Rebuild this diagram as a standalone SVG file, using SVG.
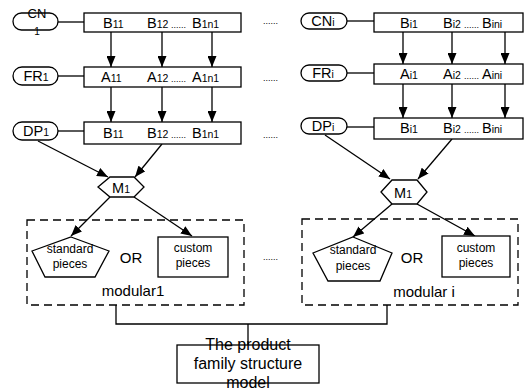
<svg xmlns="http://www.w3.org/2000/svg" width="524" height="392" viewBox="0 0 524 392">
  <defs>
    <marker id="ah" markerWidth="11" markerHeight="9" refX="11" refY="4.5" orient="auto" markerUnits="userSpaceOnUse">
      <path d="M0,0 L11,4.5 L0,9 z" fill="#000"/>
    </marker>
    <style>
      .shape { fill: #fff; stroke: #000; stroke-width: 1.3; }
      .line { fill: none; stroke: #000; stroke-width: 1.3; }
      .arrow { fill: none; stroke: #000; stroke-width: 1.3; marker-end: url(#ah); }
      .dash { fill: none; stroke: #000; stroke-width: 1.3; stroke-dasharray: 8 5; }
      text { font-family: "Liberation Sans", Arial, sans-serif; fill: #000; }
      .lbl { font-size: 14.5px; }
      .sub { font-size: 10.5px; }
      .dots { font-size: 9px; }
      .mid { text-anchor: middle; }
      .small { font-size: 12px; }
      .big { font-size: 15px; }
      .title { font-size: 16px; }
    </style>
  </defs>
  <rect width="524" height="392" fill="#fff"/>

  <!-- connectors -->
  <g id="connectors">
    <!-- labels to rows, left chain -->
    <line class="line" x1="58" y1="22" x2="84" y2="22"/>
    <line class="line" x1="58" y1="76" x2="84" y2="76"/>
    <line class="line" x1="58" y1="131" x2="84" y2="131"/>
    <!-- labels to rows, right chain -->
    <line class="line" x1="347" y1="21" x2="374" y2="21"/>
    <line class="line" x1="347" y1="73" x2="374" y2="73"/>
    <line class="line" x1="347" y1="127" x2="374" y2="127"/>
    <!-- left vertical arrows -->
    <line class="arrow" x1="111" y1="32" x2="111" y2="67"/>
    <line class="arrow" x1="162" y1="32" x2="162" y2="67"/>
    <line class="arrow" x1="212" y1="32" x2="212" y2="67"/>
    <line class="arrow" x1="111" y1="87" x2="111" y2="122"/>
    <line class="arrow" x1="162" y1="87" x2="162" y2="122"/>
    <line class="arrow" x1="212" y1="87" x2="212" y2="122"/>
    <!-- right vertical arrows -->
    <line class="arrow" x1="403" y1="32" x2="403" y2="64"/>
    <line class="arrow" x1="452" y1="32" x2="452" y2="64"/>
    <line class="arrow" x1="505" y1="32" x2="505" y2="64"/>
    <line class="arrow" x1="403" y1="84" x2="403" y2="118"/>
    <line class="arrow" x1="452" y1="84" x2="452" y2="118"/>
    <line class="arrow" x1="505" y1="84" x2="505" y2="118"/>
    <!-- into M1, left -->
    <line class="arrow" x1="38" y1="141" x2="108" y2="177"/>
    <line class="arrow" x1="162" y1="144" x2="135" y2="177"/>
    <!-- into M1, right -->
    <line class="arrow" x1="325" y1="135" x2="390" y2="179"/>
    <line class="arrow" x1="452" y1="139" x2="418" y2="179"/>
    <!-- M1 to pieces, left -->
    <line class="arrow" x1="110" y1="197" x2="71" y2="236"/>
    <line class="arrow" x1="134" y1="197" x2="192" y2="236"/>
    <!-- M1 to pieces, right -->
    <line class="arrow" x1="392" y1="204" x2="353" y2="237"/>
    <line class="arrow" x1="417" y1="204" x2="475" y2="236"/>
    <!-- modules to product model -->
    <polyline class="line" points="116,305 116,324 387,324 387,305"/>
    <line class="line" x1="248" y1="324" x2="248" y2="345"/>
  </g>

  <!-- left chain -->
  <g id="cn1">
    <rect class="shape" x="13" y="13" width="45" height="17" rx="8.5"/>
    <text class="mid" x="37" y="18" font-size="13">CN</text>
    <text class="mid" x="37" y="35" font-size="10">1</text>
  </g>
  <g id="row-b1">
    <rect class="shape" x="84" y="13" width="157" height="19"/>
    <text class="lbl" x="103" y="28">B<tspan class="sub">11</tspan></text>
    <text class="lbl" x="147" y="28">B<tspan class="sub">12</tspan></text>
    <text class="dots" x="171" y="28">......</text>
    <text class="lbl" x="192" y="28">B<tspan class="sub">1n1</tspan></text>
  </g>
  <g id="fr1">
    <rect class="shape" x="13" y="67" width="45" height="18" rx="9"/>
    <text class="lbl mid" x="36" y="81">FR<tspan class="sub">1</tspan></text>
  </g>
  <g id="row-a1">
    <rect class="shape" x="84" y="67" width="157" height="20"/>
    <text class="lbl" x="101" y="82">A<tspan class="sub">11</tspan></text>
    <text class="lbl" x="147" y="82">A<tspan class="sub">12</tspan></text>
    <text class="dots" x="171" y="82">......</text>
    <text class="lbl" x="192" y="82">A<tspan class="sub">1n1</tspan></text>
  </g>
  <g id="dp1">
    <rect class="shape" x="13" y="122" width="45" height="18" rx="9"/>
    <text class="lbl mid" x="36" y="136">DP<tspan class="sub">1</tspan></text>
  </g>
  <g id="row-dp1">
    <rect class="shape" x="84" y="122" width="157" height="22"/>
    <text class="lbl" x="103" y="138">B<tspan class="sub">11</tspan></text>
    <text class="lbl" x="147" y="138">B<tspan class="sub">12</tspan></text>
    <text class="dots" x="171" y="138">......</text>
    <text class="lbl" x="192" y="138">B<tspan class="sub">1n1</tspan></text>
  </g>
  <g id="m1-left">
    <polygon class="shape" points="98,187 110,177 134,177 144,187 134,197 110,197"/>
    <text class="lbl mid" x="121" y="193">M<tspan class="sub">1</tspan></text>
  </g>
  <g id="modular1">
    <rect class="dash" x="27" y="220" width="217" height="85"/>
    <polygon class="shape" points="71,237 109,251 95,277 45,277 32,251"/>
    <text class="small mid" x="70" y="253">standard</text>
    <text class="small mid" x="70" y="268">pieces</text>
    <text class="big mid" x="131" y="263">OR</text>
    <rect class="shape" x="158" y="237" width="70" height="40"/>
    <text class="small mid" x="193" y="252">custom</text>
    <text class="small mid" x="193" y="267">pieces</text>
    <text class="big mid" x="133" y="296">modular1</text>
  </g>

  <!-- elision marks between chains -->
  <g id="ellipsis">
    <text class="dots" x="263" y="24">......</text>
    <text class="dots" x="263" y="81">......</text>
    <text class="dots" x="263" y="138">......</text>
    <text class="dots" x="263" y="260">......</text>
  </g>

  <!-- right chain -->
  <g id="cni">
    <rect class="shape" x="301" y="13" width="46" height="16" rx="8"/>
    <text class="lbl mid" x="323" y="26">CN<tspan class="sub">i</tspan></text>
  </g>
  <g id="row-bi">
    <rect class="shape" x="374" y="13" width="149" height="19"/>
    <text class="lbl" x="400" y="28">B<tspan class="sub">i1</tspan></text>
    <text class="lbl" x="443" y="28">B<tspan class="sub">i2</tspan></text>
    <text class="dots" x="464" y="28">......</text>
    <text class="lbl" x="482" y="28">B<tspan class="sub">ini</tspan></text>
  </g>
  <g id="fri">
    <rect class="shape" x="301" y="65" width="46" height="16" rx="8"/>
    <text class="lbl mid" x="323" y="78">FR<tspan class="sub">i</tspan></text>
  </g>
  <g id="row-ai">
    <rect class="shape" x="374" y="64" width="149" height="20"/>
    <text class="lbl" x="400" y="79">A<tspan class="sub">i1</tspan></text>
    <text class="lbl" x="443" y="79">A<tspan class="sub">i2</tspan></text>
    <text class="dots" x="464" y="79">......</text>
    <text class="lbl" x="482" y="79">A<tspan class="sub">ini</tspan></text>
  </g>
  <g id="dpi">
    <rect class="shape" x="301" y="118" width="46" height="16" rx="8"/>
    <text class="lbl mid" x="323" y="131">DP<tspan class="sub">i</tspan></text>
  </g>
  <g id="row-dpi">
    <rect class="shape" x="374" y="118" width="149" height="21"/>
    <text class="lbl" x="400" y="133">B<tspan class="sub">i1</tspan></text>
    <text class="lbl" x="443" y="133">B<tspan class="sub">i2</tspan></text>
    <text class="dots" x="464" y="133">......</text>
    <text class="lbl" x="482" y="133">B<tspan class="sub">ini</tspan></text>
  </g>
  <g id="m1-right">
    <polygon class="shape" points="381,192 392,180 417,180 427,192 417,204 392,204"/>
    <text class="lbl mid" x="403" y="198">M<tspan class="sub">1</tspan></text>
  </g>
  <g id="modulari">
    <rect class="dash" x="302" y="219" width="216" height="86"/>
    <polygon class="shape" points="353,237 392,253 380,281 328,281 313,253"/>
    <text class="small mid" x="353" y="254">standard</text>
    <text class="small mid" x="353" y="270">pieces</text>
    <text class="big mid" x="412" y="263">OR</text>
    <rect class="shape" x="442" y="236" width="68" height="41"/>
    <text class="small mid" x="476" y="252">custom</text>
    <text class="small mid" x="476" y="267">pieces</text>
    <text class="big mid" x="424" y="297">modular i</text>
  </g>

  <!-- combined model -->
  <g id="product-model">
    <rect class="shape" x="177" y="345" width="142" height="38"/>
    <text class="title mid" x="248" y="350">The product</text>
    <text class="title mid" x="248" y="369">family structure</text>
    <text class="title mid" x="248" y="388">model</text>
  </g>
</svg>
